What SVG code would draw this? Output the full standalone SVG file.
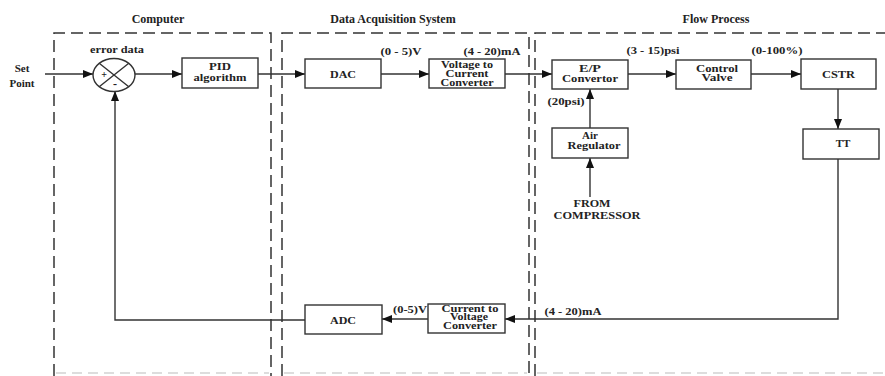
<svg xmlns="http://www.w3.org/2000/svg" width="885" height="376" viewBox="0 0 885 376">
<style>
text{font-family:"Liberation Serif","Times New Roman",serif;font-weight:bold;fill:#222;text-anchor:middle}
.t{font-size:12px}
.b{font-size:11px}
.s{font-size:11px}
.m{font-size:10.5px}
.box{fill:#fff;stroke:#333;stroke-width:1.4}
.dash{fill:none;stroke:#333;stroke-width:1.5;stroke-dasharray:12 6}
.fdash{fill:none;stroke:#bbb;stroke-width:1.2;stroke-dasharray:10 6}
.c{fill:none;stroke:#333;stroke-width:1.4}
</style>
<defs>
<marker id="ah" viewBox="0 0 10 8" refX="10" refY="4" markerWidth="10" markerHeight="8" markerUnits="userSpaceOnUse" orient="auto">
<path d="M0,0 L10,4 L0,8 Z" fill="#111"/>
</marker>
</defs>
<rect width="885" height="376" fill="#fff"/>
<g id="regions">
<path class="dash" d="M54,376 V33 H271 V376"/>
<path class="dash" d="M282,376 V33 H529 V376"/>
<path class="dash" d="M535,376 V33 H885"/>
<path class="fdash" d="M56,373 H269 M284,373 H527 M537,373 H885"/>
<text class="t" x="158" y="23">Computer</text>
<text class="t" x="393" y="23">Data Acquisition System</text>
<text class="t" x="716" y="23">Flow Process</text>
</g>
<g id="connectors">
<path class="c" d="M45,74 H93" marker-end="url(#ah)"/>
<path class="c" d="M135,74 H182" marker-end="url(#ah)"/>
<path class="c" d="M258,74 H305" marker-end="url(#ah)"/>
<path class="c" d="M381,74 H429" marker-end="url(#ah)"/>
<path class="c" d="M505,74 H552" marker-end="url(#ah)"/>
<path class="c" d="M628,74 H676" marker-end="url(#ah)"/>
<path class="c" d="M751,74 H801" marker-end="url(#ah)"/>
<path class="c" d="M838,89 V129" marker-end="url(#ah)"/>
<path class="c" d="M838,159 V319 H505" marker-end="url(#ah)"/>
<path class="c" d="M428,319 H382" marker-end="url(#ah)"/>
<path class="c" d="M305,320 H115 V91" marker-end="url(#ah)"/>
<path class="c" d="M590,128 V89" marker-end="url(#ah)"/>
<path class="c" d="M590,197 V158" marker-end="url(#ah)"/>
<text class="s" x="401" y="55" textLength="41" lengthAdjust="spacingAndGlyphs">(0 - 5)V</text>
<text class="s" x="492" y="55" textLength="57" lengthAdjust="spacingAndGlyphs">(4 - 20)mA</text>
<text class="s" x="653" y="54" textLength="53" lengthAdjust="spacingAndGlyphs">(3 - 15)psi</text>
<text class="s" x="777" y="54" textLength="51" lengthAdjust="spacingAndGlyphs">(0-100%)</text>
<text class="s" x="566" y="105" textLength="37" lengthAdjust="spacingAndGlyphs">(20psi)</text>
<text class="s" x="573" y="315" textLength="57" lengthAdjust="spacingAndGlyphs">(4 - 20)mA</text>
<text class="s" x="410" y="313" textLength="34" lengthAdjust="spacingAndGlyphs">(0-5)V</text>
</g>
<g id="setpoint">
<text class="s" x="22" y="72">Set</text>
<text class="s" x="22" y="87">Point</text>
</g>
<g id="sum">
<ellipse cx="114" cy="75" rx="21" ry="16.5" class="box"/>
<path class="c" d="M99.2,63.3 L128.8,86.7 M128.8,63.3 L99.2,86.7"/>
<text class="s" x="117" y="53" textLength="54" lengthAdjust="spacingAndGlyphs">error data</text>
<text class="s" x="104" y="78" style="font-size:10px">+</text>
<text class="s" x="115" y="88" style="font-size:12px">-</text>
</g>
<g id="pid">
<rect class="box" x="182" y="58" width="76" height="30"/>
<text class="s" x="220" y="70" textLength="22" lengthAdjust="spacingAndGlyphs">PID</text>
<text class="s" x="220" y="81" textLength="53" lengthAdjust="spacingAndGlyphs">algorithm</text>
</g>
<g id="dac">
<rect class="box" x="305" y="59" width="76" height="29"/>
<text class="b" x="343" y="78" textLength="26" lengthAdjust="spacingAndGlyphs">DAC</text>
</g>
<g id="v2c">
<rect class="box" x="429" y="59" width="76" height="29"/>
<text class="m" x="467" y="67.5" textLength="52" lengthAdjust="spacingAndGlyphs">Voltage to</text>
<text class="m" x="467" y="77" textLength="43" lengthAdjust="spacingAndGlyphs">Current</text>
<text class="m" x="467" y="86" textLength="53" lengthAdjust="spacingAndGlyphs">Converter</text>
</g>
<g id="ep">
<rect class="box" x="552" y="60" width="76" height="29"/>
<text class="s" x="590" y="72" textLength="22" lengthAdjust="spacingAndGlyphs">E/P</text>
<text class="s" x="590" y="82" textLength="56" lengthAdjust="spacingAndGlyphs">Convertor</text>
</g>
<g id="valve">
<rect class="box" x="676" y="60" width="75" height="29"/>
<text class="s" x="717" y="71.5" textLength="42" lengthAdjust="spacingAndGlyphs">Control</text>
<text class="s" x="717" y="81" textLength="31" lengthAdjust="spacingAndGlyphs">Valve</text>
</g>
<g id="cstr">
<rect class="box" x="801" y="59" width="75" height="30"/>
<text class="b" x="838.5" y="78" textLength="33" lengthAdjust="spacingAndGlyphs">CSTR</text>
</g>
<g id="air">
<rect class="box" x="552" y="128" width="76" height="30"/>
<text class="s" x="590" y="139">Air</text>
<text class="s" x="594" y="149" textLength="53" lengthAdjust="spacingAndGlyphs">Regulator</text>
</g>
<g id="compressor">
<text class="s" x="592" y="207" textLength="37" lengthAdjust="spacingAndGlyphs">FROM</text>
<text class="s" x="597" y="219" textLength="87" lengthAdjust="spacingAndGlyphs">COMPRESSOR</text>
</g>
<g id="tt">
<rect class="box" x="803" y="129" width="76" height="30"/>
<text class="s" x="843" y="147">TT</text>
</g>
<g id="c2v">
<rect class="box" x="428" y="304" width="77" height="29"/>
<text class="m" x="470" y="312" textLength="57" lengthAdjust="spacingAndGlyphs">Current to</text>
<text class="m" x="469" y="320" textLength="38" lengthAdjust="spacingAndGlyphs">Voltage</text>
<text class="m" x="470" y="329" textLength="54" lengthAdjust="spacingAndGlyphs">Converter</text>
</g>
<g id="adc">
<rect class="box" x="305" y="305" width="77" height="29"/>
<text class="b" x="343" y="324" textLength="26" lengthAdjust="spacingAndGlyphs">ADC</text>
</g>
</svg>
